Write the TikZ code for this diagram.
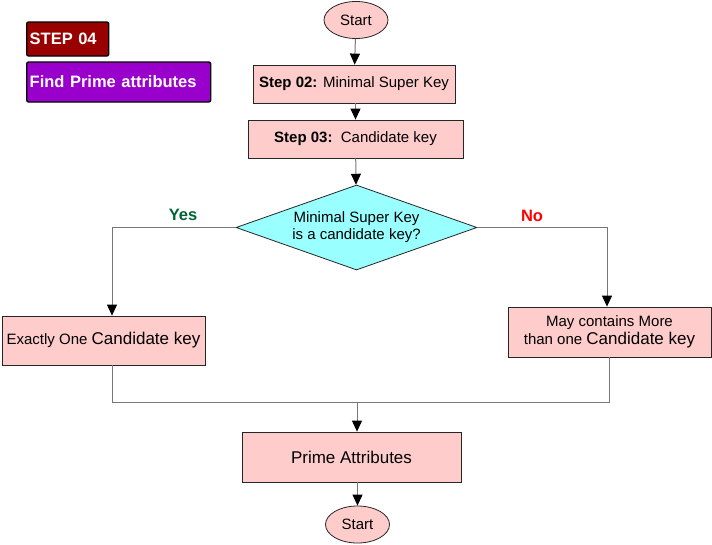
\documentclass[tikz,border=0pt]{standalone}
\usepackage{fontspec}
\setmainfont{Liberation Sans}
\usetikzlibrary{shapes.geometric,arrows.meta}
\definecolor{pinkf}{HTML}{FFCCCC}
\definecolor{cyanf}{HTML}{99FFFF}
\definecolor{stepred}{HTML}{990000}
\definecolor{purp}{HTML}{9900CC}
\definecolor{yesg}{HTML}{006633}
\definecolor{nor}{HTML}{FF0000}
\definecolor{linec}{HTML}{777777}
\tikzset{
  every node/.style={font=\fontsize{15}{17}\selectfont, inner sep=0pt, align=center},
  procbox/.style={draw=black!85, line width=0.8pt, fill=pinkf, rectangle},
  term/.style={draw=black!85, line width=0.8pt, fill=pinkf, ellipse, minimum width=64pt, minimum height=37pt},
  decis/.style={draw=black!85, line width=0.8pt, fill=cyanf, diamond, aspect=2.835, minimum width=241pt, minimum height=85pt},
  tagbox/.style={draw=black, line width=1.4pt, rounded corners=2pt, text=white, font=\fontsize{16.5}{18}\selectfont\bfseries, anchor=west, text depth=0pt},
  conn/.style={draw=linec, line width=1pt},
  arr/.style={conn, -{Triangle[length=11pt,width=10pt,fill=black,color=black]}},
  lab/.style={font=\fontsize{16.5}{18}\selectfont\bfseries}
}
\begin{document}
\begin{tikzpicture}[x=1pt,y=-1pt]
\useasboundingbox (0,0) rectangle (712,544);
% tags
\node[tagbox, fill=stepred, minimum width=82pt, minimum height=34pt, text width=76pt, align=left] (tag1) at (26,39) {STEP 04};
\node[tagbox, fill=purp, minimum width=184pt, minimum height=40pt, text width=178pt, align=left] (tag2) at (26,82) {Find Prime attributes};
% main flow
\node[term] (s1) at (356,20) {Start};
\node[procbox, minimum width=202pt, minimum height=38pt] (b2) at (354,84) {\textbf{Step 02:} Minimal Super Key};
\node[procbox, minimum width=215pt, minimum height=38pt] (b3) at (355.5,139) {\textbf{Step 03:}\ \ Candidate key};
\node[decis] (dia) at (356.5,227.5) {Minimal Super Key\\[0pt]is a candidate key?};
\node[lab, text=yesg] (yes) at (183,215) {Yes};
\node[lab, text=nor] (no) at (532,216) {No};
\node[procbox, minimum width=203pt, minimum height=49pt] (lb) at (103.5,340.5) {Exactly One {\fontsize{17}{19}\selectfont Candidate key}};
\node[procbox, minimum width=203pt, minimum height=50pt] (rb) at (609.5,332) {May contains More\\[1pt]than one {\fontsize{17}{19}\selectfont Candidate key}};
\node[procbox, minimum width=219pt, minimum height=50pt] (pa) at (351.5,457) {{\fontsize{17}{19}\selectfont Prime Attributes}};
\node[term] (s2) at (357.5,524.5) {Start};
\coordinate (j) at (357,402);
% connectors
\draw[arr] (s1) -- (b2);
\draw[arr] (b2.south -| b3.north) -- (b3);
\draw[arr] (b3) -- (dia);
\draw[arr] (dia.west) -| ([xshift=8.5pt]lb.north);
\draw[arr] (dia.east) -| ([xshift=-2.5pt]rb.north);
\draw[conn] ([xshift=8.5pt]lb.south) |- (j);
\draw[conn] (rb.south) |- (j);
\draw[arr] (j) -- (pa.north -| j);
\draw[arr] (pa.south -| s2) -- (s2);
\end{tikzpicture}
\end{document}
